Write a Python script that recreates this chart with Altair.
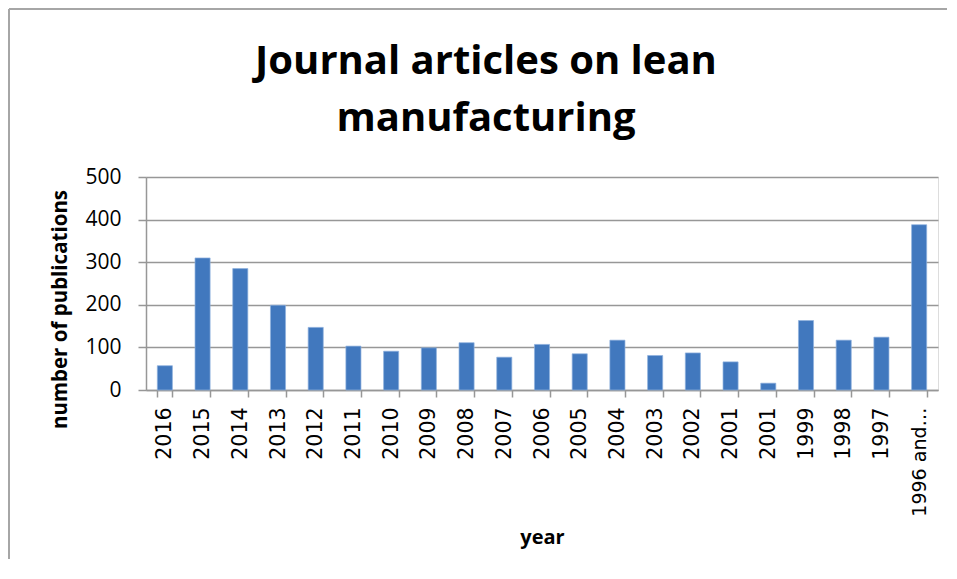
import json
import altair as alt
import pandas as pd

years = ["2016", "2015", "2014", "2013", "2012", "2011", "2010", "2009", "2008",
         "2007", "2006", "2005", "2004", "2003", "2002", "2001", "2001", "1999",
         "1998", "1997", "1996 and…"]
counts = [57, 310, 285, 199, 147, 103, 91, 99, 111, 77, 107, 85, 117, 81, 87,
          66, 16, 163, 117, 124, 388]
y_ticks = [0, 100, 200, 300, 400, 500]

df = pd.DataFrame({"slot": list(range(len(years))), "year": years, "count": counts})
label_expr = json.dumps(years, ensure_ascii=False) + "[datum.value]"
last_slot = len(years) - 1

W, H = 792, 213
PAD = {"left": 138, "top": 169, "right": 10, "bottom": 170}
GRID = "#979797"
FRAME = "#a6a6a6"

bars = alt.Chart(df).mark_bar(color="#4178BE", stroke="#8FB2DE", strokeWidth=0.7).encode(
    x=alt.X(
        "slot:O",
        scale=alt.Scale(paddingInner=0.6, paddingOuter=0.3),
        axis=alt.Axis(
            title="year", labelExpr=label_expr, labelAngle=270,
            labelFont="DejaVu Sans",
            labelFontSize={"condition": {"test": f"datum.value == {last_slot}", "value": 19},
                           "value": 20.5},
            labelColor="black", labelPadding=10, labelLimit=300,
            tickBand="extent", ticks=True, tickSize=7, tickColor=GRID, tickWidth=1.5,
            domainColor=GRID, domainWidth=1.5, grid=False,
            titleFont="Open Sans", titleFontSize=20, titleFontWeight="bold",
            titleColor="black", titleY=153, titleBaseline="alphabetic",
        ),
    ),
    y=alt.Y(
        "count:Q",
        scale=alt.Scale(domain=[0, 500], nice=False),
        axis=alt.Axis(
            values=y_ticks, title="number of publications",
            grid=True, gridColor=GRID, gridWidth=1.5,
            domainColor=GRID, domainWidth=1.5,
            tickColor=GRID, tickWidth=1.5, tickSize=8,
            labelFont="Open Sans", labelFontSize=21, labelColor="black", labelPadding=17,
            titleFont="Open Sans", titleFontSize=20.5, titleFontWeight="bold",
            titleColor="black", titleX=-86, titleY=132, titleAngle=270,
            titleAlign="center", titleBaseline="middle",
        ),
    ),
)

# outer chart frame (Excel chart-area border, cut off at right and bottom)
frame_df = pd.DataFrame({"f": [0]})
frame_left = alt.Chart(frame_df).mark_rule(color=FRAME, strokeWidth=2).encode(
    x=alt.value(-137), y=alt.value(-168), y2=alt.value(H + PAD["bottom"] - 1)
)
frame_top = alt.Chart(frame_df).mark_rule(color=FRAME, strokeWidth=2).encode(
    x=alt.value(-137), x2=alt.value(W + PAD["right"] - 1), y=alt.value(-168)
)

chart = alt.layer(frame_left, frame_top, bars).properties(
    width=W,
    height=H,
    padding=PAD,
    autosize=alt.AutoSizeParams(type="none"),
    title=alt.TitleParams(
        text=["Journal articles on lean", "manufacturing"],
        font="Open Sans", fontSize=40, fontWeight="bold", color="black",
        anchor="middle", dx=-56, dy=131, lineHeight=57, offset=0, frame="group",
    ),
).configure_view(stroke=None).configure(background="white")

chart.save("out.html", embed_options={"renderer": "svg", "actions": False})
